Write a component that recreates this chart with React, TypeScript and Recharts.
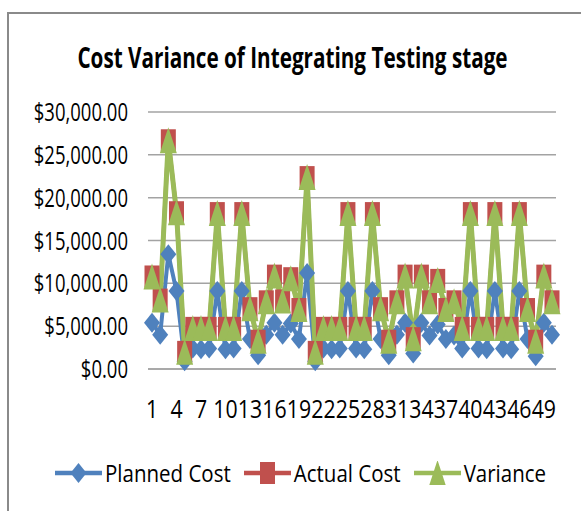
import React from 'react';
import { LineChart, Line, XAxis, YAxis, CartesianGrid } from 'recharts';

// values
const categories = [
  1, 2, 3, 4, 5, 6, 7, 8, 9, 10, 11, 12, 13, 14, 15, 16, 17, 18, 19, 20, 21, 22, 23, 24, 25,
  26, 27, 28, 29, 30, 31, 32, 33, 34, 35, 36, 37, 38, 39, 40, 41, 42, 43, 44, 45, 46, 47, 48, 49, 50,
];

const plannedCost = [
  5400, 4000, 13400, 9100, 900, 2400, 2300, 2400, 9100, 2300, 2400, 9100, 3500, 1600, 4000, 5400, 4000,
  5300, 3500, 11200, 900, 2400, 2300, 2400, 9100, 2400, 2300, 9100, 3500, 1600, 4000, 5400, 1800, 5400,
  3900, 5200, 3500, 3900, 2400, 9100, 2400, 2300, 9100, 2400, 2300, 9100, 3500, 1500, 5400, 4000,
];

const actualCost = [
  10800, 8100, 26700, 18300, 2000, 4800, 4800, 4800, 18200, 4800, 4800, 18200, 7100, 3300, 7900, 10900,
  8000, 10600, 7000, 22400, 2000, 4800, 4800, 4800, 18200, 4800, 4800, 18200, 7100, 3300, 7900, 10900,
  3600, 10900, 7900, 10400, 7000, 7900, 4800, 18200, 4800, 4800, 18200, 4800, 4800, 18200, 7000, 3300,
  10900, 7900,
];

const variance = [
  10800, 8100, 26700, 18300, 2000, 4800, 4800, 4800, 18200, 4800, 4800, 18200, 7100, 3300, 7900, 10900,
  8000, 10600, 7000, 22400, 2000, 4800, 4800, 4800, 18200, 4800, 4800, 18200, 7100, 3300, 7900, 10900,
  3600, 10900, 7900, 10400, 7000, 7900, 4800, 18200, 4800, 4800, 18200, 4800, 4800, 18200, 7000, 3300,
  10900, 7900,
];

const yTicks = [0, 5000, 10000, 15000, 20000, 25000, 30000];
const seriesNames = ['Planned Cost', 'Actual Cost', 'Variance'];
const chartTitle = 'Cost Variance of Integrating Testing stage';

const data = categories.map((c, i) => ({
  cat: String(c),
  planned: plannedCost[i],
  actual: actualCost[i],
  variance: variance[i],
}));

const BLUE = '#4f81bd';
const RED = '#c0504d';
const GREEN = '#9bbb59';
const GRID = '#a3a3a3';
const FONT = '"Open Sans", sans-serif';

const money = (v: number) =>
  '$' + v.toLocaleString('en-US', { minimumFractionDigits: 2, maximumFractionDigits: 2 });

// marker shapes (Excel markers look stretched vertically)
const marker = (kind: string, cx: number, cy: number, color: string, key?: string) => {
  if (kind === 'diamond') {
    return (
      <polygon key={key} points={`${cx},${cy - 10} ${cx + 8},${cy} ${cx},${cy + 10} ${cx - 8},${cy}`} fill={color} />
    );
  }
  if (kind === 'square') {
    return <rect key={key} x={cx - 7.5} y={cy - 11} width={15} height={22} fill={color} />;
  }
  return (
    <polygon key={key} points={`${cx},${cy - 13} ${cx + 8.5},${cy + 13} ${cx - 8.5},${cy + 13}`} fill={color} />
  );
};

const dotRenderer = (kind: string, color: string) => (props: any) => {
  const { cx, cy, index } = props;
  if (cx == null || cy == null) return <g key={`${kind}-${index}`} />;
  return marker(kind, cx, cy, color, `${kind}-${index}`);
};

const YTick = (props: any) => {
  const { x, y, payload } = props;
  return (
    <g transform={`translate(${x},${y + 9}) scale(1,1.36)`}>
      <text textAnchor="end" fontFamily={FONT} fontSize={18.5} fill="#000">
        {money(payload.value)}
      </text>
    </g>
  );
};

const XTick = (props: any) => {
  const { x, y, payload } = props;
  return (
    <g transform={`translate(${x},${y}) scale(1,1.18)`}>
      <text textAnchor="middle" fontFamily={FONT} fontSize={21.3} fill="#000">
        {payload.value}
      </text>
    </g>
  );
};

const legendItems = [
  { name: seriesNames[0], color: BLUE, kind: 'diamond' },
  { name: seriesNames[1], color: RED, kind: 'square' },
  { name: seriesNames[2], color: GREEN, kind: 'triangle' },
];

const App: React.FC = () => {
  return (
    <div
      style={{
        position: 'absolute',
        left: 0,
        top: 0,
        width: 581,
        height: 511,
        overflow: 'hidden',
        background: '#fff',
      }}
    >
      {/* chart frame, only top and left edges are inside the picture */}
      <div
        style={{
          position: 'absolute',
          left: 7,
          top: 12,
          width: 700,
          height: 700,
          borderLeft: '2px solid #8a8a8a',
          borderTop: '2px solid #8a8a8a',
        }}
      />

      <div style={{ position: 'absolute', left: 0, top: 0 }}>
        <LineChart width={581} height={511} data={data} margin={{ top: 112, right: 25, bottom: 82, left: 0 }}>
          <CartesianGrid vertical={false} stroke={GRID} strokeWidth={1.5} />
          <XAxis
            dataKey="cat"
            interval={2}
            padding={{ left: 4, right: 4 }}
            tickLine={false}
            axisLine={{ stroke: GRID, strokeWidth: 1.5 }}
            tickMargin={43}
            height={60}
            tick={<XTick />}
          />
          <YAxis
            width={148}
            domain={[0, 30000]}
            ticks={yTicks}
            interval={0}
            axisLine={false}
            tickLine={false}
            tickMargin={14}
            tick={<YTick />}
          />
          <Line
            type="linear"
            dataKey="planned"
            stroke={BLUE}
            strokeWidth={4}
            dot={dotRenderer('diamond', BLUE)}
            activeDot={false}
            isAnimationActive={false}
          />
          <Line
            type="linear"
            dataKey="actual"
            stroke={RED}
            strokeWidth={4}
            dot={dotRenderer('square', RED)}
            activeDot={false}
            isAnimationActive={false}
          />
          <Line
            type="linear"
            dataKey="variance"
            stroke={GREEN}
            strokeWidth={5}
            dot={dotRenderer('triangle', GREEN)}
            activeDot={false}
            isAnimationActive={false}
          />
        </LineChart>
      </div>

      <svg width={581} height={100} style={{ position: 'absolute', left: 0, top: 0 }}>
        <g transform="translate(292.5,68) scale(1,1.35)">
          <text textAnchor="middle" fontFamily={FONT} fontWeight={700} fontSize={20.7} fill="#000">
            {chartTitle}
          </text>
        </g>
      </svg>

      <div
        style={{
          position: 'absolute',
          left: 55,
          top: 461,
          height: 24,
          display: 'flex',
          alignItems: 'center',
        }}
      >
        {legendItems.map((it) => (
          <div key={it.name} style={{ display: 'flex', alignItems: 'center', marginRight: 13 }}>
            <svg width={47} height={24}>
              <line x1={0} y1={12} x2={47} y2={12} stroke={it.color} strokeWidth={4.5} />
              {marker(it.kind, 23.5, 12, it.color)}
            </svg>
            <span
              style={{
                marginLeft: 3,
                fontFamily: FONT,
                fontSize: 20.5,
                lineHeight: 1,
                color: '#000',
                display: 'inline-block',
                transform: 'scaleY(1.18)',
                whiteSpace: 'nowrap',
              }}
            >
              {it.name}
            </span>
          </div>
        ))}
      </div>
    </div>
  );
};

export default App;
